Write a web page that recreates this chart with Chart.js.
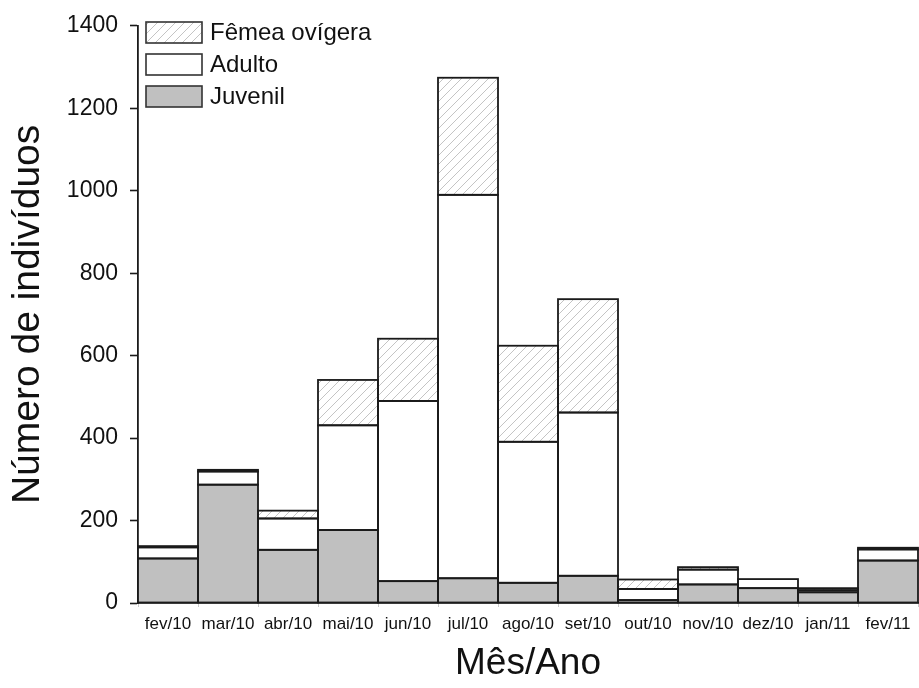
<!DOCTYPE html>
<html>
<head>
<meta charset="utf-8">
<script src="https://cdn.jsdelivr.net/npm/chart.js@4.4.0/dist/chart.umd.min.js"></script>
<style>
html,body{margin:0;padding:0;background:#fff;}
canvas{display:block;}
</style>
</head>
<body>
<canvas id="c" width="919" height="688"></canvas>
<script>
const categories = ['fev/10','mar/10','abr/10','mai/10','jun/10','jul/10','ago/10','set/10','out/10','nov/10','dez/10','jan/11','fev/11'];
const juvenil = [108, 287, 129, 177, 53, 60, 49, 66, 7, 45, 36, 26, 103];
const adulto  = [27, 32, 76, 254, 437, 930, 342, 396, 27, 36, 22, 5, 27];
const femea   = [3, 4, 19, 110, 151, 284, 233, 275, 23, 6, 0, 5, 4];
const yTicks = [0, 200, 400, 600, 800, 1000, 1200, 1400];
const seriesNames = ['Juvenil', 'Adulto', 'Fêmea ovígera'];

const FONT = "'Liberation Sans', Arial, sans-serif";

function hatch() {
  const s = 9;
  const c = document.createElement('canvas');
  c.width = s; c.height = s;
  const x = c.getContext('2d');
  x.fillStyle = '#ffffff';
  x.fillRect(0, 0, s, s);
  x.strokeStyle = '#c4c4c4';
  x.lineWidth = 1;
  x.beginPath();
  x.moveTo(-1, s + 1); x.lineTo(s + 1, -1);
  x.moveTo(-1, 1); x.lineTo(1, -1);
  x.moveTo(s - 1, s + 1); x.lineTo(s + 1, s - 1);
  x.stroke();
  return x.createPattern(c, 'repeat');
}

const ctx = document.getElementById('c').getContext('2d');
const border = '#1a1a1a';

// Draw segment outlines centred on each bar edge (like the original plot)
const outlinePlugin = {
  id: 'barOutline',
  afterDatasetsDraw(chart) {
    const c = chart.ctx;
    c.save();
    c.strokeStyle = border;
    c.lineWidth = 1.8;
    chart.data.datasets.forEach((d, di) => {
      const meta = chart.getDatasetMeta(di);
      meta.data.forEach((el, i) => {
        if (!d.data[i]) return;
        const p = el.getProps(['x', 'y', 'base', 'width'], true);
        const left = p.x - p.width / 2;
        const top = Math.min(p.y, p.base);
        const h = Math.abs(p.base - p.y);
        c.strokeRect(left, top, p.width, h);
      });
    });
    c.restore();
  }
};

const legendPlugin = {
  id: 'customLegend',
  afterDraw(chart) {
    const c = chart.ctx;
    const ds = chart.data.datasets.slice().reverse();
    c.save();
    ds.forEach((d, i) => {
      const y = 22 + i * 32;
      c.fillStyle = d.backgroundColor;
      c.fillRect(146, y, 56, 21);
      c.strokeStyle = '#333';
      c.lineWidth = 1.6;
      c.strokeRect(146, y, 56, 21);
      c.fillStyle = '#111';
      c.font = '24px ' + FONT;
      c.textBaseline = 'middle';
      c.textAlign = 'left';
      c.fillText(d.label, 210, y + 11);
    });
    c.restore();
  }
};

new Chart(ctx, {
  type: 'bar',
  data: {
    labels: categories,
    datasets: [
      { label: seriesNames[0], data: juvenil, backgroundColor: '#c0c0c0', borderWidth: 0 },
      { label: seriesNames[1], data: adulto, backgroundColor: '#ffffff', borderWidth: 0 },
      { label: seriesNames[2], data: femea, backgroundColor: hatch(), borderWidth: 0 }
    ]
  },
  options: {
    responsive: false,
    animation: false,
    devicePixelRatio: 1,
    layout: { padding: { left: 0, right: 1, top: 19, bottom: 0 } },
    datasets: { bar: { barPercentage: 1, categoryPercentage: 1, inflateAmount: 0 } },
    plugins: { legend: { display: false }, tooltip: { enabled: false } },
    scales: {
      x: {
        stacked: true,
        grid: { display: true, drawOnChartArea: false, offset: true, tickLength: 4, tickColor: '#cccccc', tickWidth: 1 },
        border: { display: true, color: border, width: 1.8 },
        ticks: { color: '#111', font: { family: FONT, size: 17 }, padding: 7, maxRotation: 0, autoSkip: false },
        title: { display: true, text: 'Mês/Ano', color: '#111', font: { family: FONT, size: 37, lineHeight: 1.2 }, padding: { top: 0, bottom: 2 } },
        afterFit(s) { s.height = 85; }
      },
      y: {
        stacked: true,
        min: 0, max: 1400,
        afterBuildTicks(s) { s.ticks = yTicks.map(v => ({ value: v })); },
        grid: { display: true, drawOnChartArea: false, tickLength: 8, tickColor: border, tickWidth: 1.6 },
        border: { display: true, color: border, width: 1.8 },
        ticks: { color: '#111', font: { family: FONT, size: 23 }, padding: 12, callback: v => String(v) },
        title: { display: true, text: 'Número de indivíduos', color: '#111', font: { family: FONT, size: 39, lineHeight: 1.2 }, padding: { top: 5, bottom: 0 } },
        afterFit(s) { s.width = 138; }
      }
    }
  },
  plugins: [outlinePlugin, legendPlugin]
});
</script>
</body>
</html>
